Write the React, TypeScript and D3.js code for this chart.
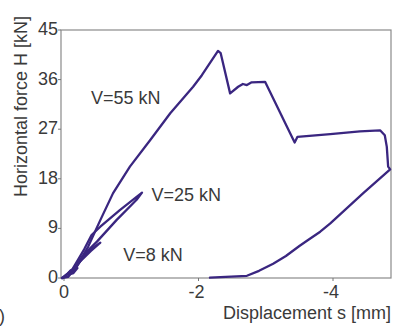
import React from "react";
import * as d3 from "d3";

// V=55 kN: loading, peaks, softening and unloading (s in mm, H in kN)
const v55S = [0.03, -0.06, -0.19, -0.36, -0.54, -0.73, -0.98, -1.28, -1.58, -1.92, -2.05, -2.29, -2.33, -2.47, -2.59, -2.66, -2.72, -2.79, -2.99, -3.41, -3.43, -3.47, -3.96, -4.4, -4.7, -4.77, -4.8, -4.82, -4.85, -4.45, -3.96, -3.81, -3.64, -3.5, -3.3, -3.11, -2.9, -2.72, -2.17];
const v55H = [0, 0.2, 2.1, 5.7, 10.5, 15.4, 20.2, 25.0, 29.9, 34.7, 36.8, 41.2, 40.8, 33.5, 34.7, 35.2, 35.0, 35.5, 35.6, 25.1, 24.6, 25.6, 26.1, 26.6, 26.8, 25.9, 23.8, 20.2, 19.7, 15.4, 9.9, 8.4, 7.0, 5.8, 4.0, 2.6, 1.3, 0.4, 0.05];

// V=25 kN: narrow loop
const v25S = [0.02, -0.19, -0.34, -0.49, -0.78, -1.08, -1.16, -0.83, -0.54, -0.41, -0.3, -0.12, 0];
const v25H = [0, 2.1, 4.8, 6.6, 10.5, 14.2, 15.5, 12.3, 9.3, 7.8, 5.2, 1.5, 0.2];

// V=8 kN: small loops near origin
const v8S = [0.03, -0.1, -0.24, -0.4, -0.54, -0.42, -0.28, -0.16, -0.06, -0.14, -0.2, -0.1, -0.02];
const v8H = [0, 1.2, 3.0, 4.9, 6.4, 5.4, 4.0, 2.0, 0.6, 0.9, 1.8, 1.4, 0.3];

const yTicks = [0, 9, 18, 27, 36, 45];
const xTicks = [0, -2, -4];

const labels = [
  { text: "V=55 kN", s: -0.4, h: 31.5 },
  { text: "V=25 kN", s: -1.3, h: 13.9 },
  { text: "V=8 kN", s: -0.88, h: 3.0 },
];

export default function App() {
  const left = 61;
  const right = 391;
  const top = 30;
  const bottom = 278;

  const x = d3.scaleLinear().domain([0, -4]).range([64, 333]);
  const y = d3.scaleLinear().domain([0, 45]).range([bottom, top]);

  const line = d3
    .line<[number, number]>()
    .x((d) => x(d[0]))
    .y((d) => y(d[1]));

  const zip = (s: number[], h: number[]) => s.map((v, i) => [v, h[i]] as [number, number]);
  const series = [zip(v55S, v55H), zip(v25S, v25H), zip(v8S, v8H)];

  const font = "'Liberation Sans', Arial, sans-serif";
  const textCol = "#3a3a3a";
  const curveCol = "#3a2680";

  return (
    <svg
      width={396}
      height={327}
      style={{ position: "absolute", left: 0, top: 0, background: "#fff" }}
      fontFamily={font}
    >
      {/* frame */}
      <rect x={left} y={top} width={right - left} height={bottom - top} fill="none" stroke="#8a8a8a" strokeWidth={1.2} />

      {/* y ticks */}
      {yTicks.map((t) => (
        <g key={"y" + t}>
          <line x1={left - 3} x2={left} y1={y(t)} y2={y(t)} stroke="#777" strokeWidth={1} />
          <text x={58} y={y(t) + 5} textAnchor="end" fontSize={18} fill={textCol}>
            {t}
          </text>
        </g>
      ))}

      {/* x ticks */}
      {xTicks.map((t) => (
        <g key={"x" + t}>
          <line x1={x(t)} x2={x(t)} y1={bottom} y2={bottom + 3} stroke="#777" strokeWidth={1} />
          <text x={x(t) + (t < 0 ? -2 : 0)} y={297.5} textAnchor="middle" fontSize={18} fill={textCol}>
            {t}
          </text>
        </g>
      ))}

      {/* curves */}
      {series.map((d, i) => (
        <path
          key={i}
          d={line(d) ?? ""}
          fill="none"
          stroke={curveCol}
          strokeWidth={2.3}
          strokeLinejoin="round"
          strokeLinecap="round"
        />
      ))}

      {labels.map((l) => (
        <text key={l.text} x={x(l.s)} y={y(l.h)} fontSize={18} fill={textCol}>
          {l.text}
        </text>
      ))}

      {/* axis titles */}
      <text x={391} y={319} textAnchor="end" fontSize={18} fill={textCol}>
        Displacement s [mm]
      </text>
      <text transform="translate(27,197) rotate(-90)" fontSize={18} fill={textCol}>
        Horizontal force H [kN]
      </text>
      <text x={-1} y={322} fontSize={18} fill={textCol}>
        )
      </text>
    </svg>
  );
}
